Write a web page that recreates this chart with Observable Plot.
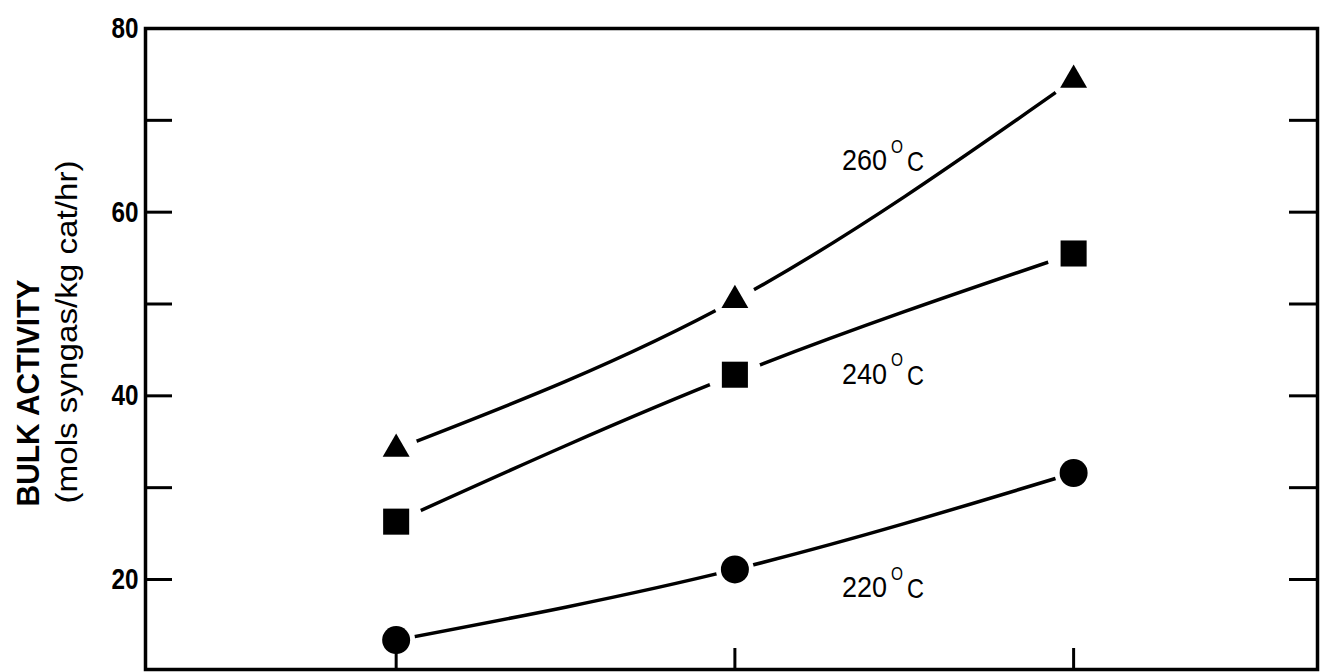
<!DOCTYPE html>
<html><head><meta charset="utf-8">
<script src="https://cdn.jsdelivr.net/npm/d3@7"></script>
<script src="https://cdn.jsdelivr.net/npm/@observablehq/plot@0.6"></script>
<style>
html,body{margin:0;padding:0;background:#fff;}
svg{display:block;}
</style></head><body><div id="chart"></div>
<script>
const runs = [1, 2, 3];
const temps = ["220", "240", "260"];
const series220 = [13.4, 21.1, 31.6];
const series240 = [26.3, 42.3, 55.5];
const series260 = [34.2, 50.4, 74.4];
const yTicks = [20, 30, 40, 50, 60, 70];
const yTickLabels = [20, 40, 60, 80];
const xTicks = [1, 2, 3];
const labelX = [2.316, 2.316, 2.316];
const labelY = [19.1, 42.3, 65.6];
const axisLines = ["BULK ACTIVITY", "(mols syngas/kg cat/hr)"];

const seriesByTemp = {"220": series220, "240": series240, "260": series260};
const rows = [];
for (const t of temps) runs.forEach((r, i) => rows.push({run: r, temp: t, value: seriesByTemp[t][i]}));
const labels = temps.map((t, i) => ({x: labelX[i], y: labelY[i], num: t}));

const font = "'Liberation Sans', 'DejaVu Sans', sans-serif";
const ofTemp = t => rows.filter(d => d.temp === t);

const chart = Plot.plot({
  width: 1321, height: 672,
  marginLeft: 145, marginRight: 4, marginTop: 28, marginBottom: 3,
  style: {fontFamily: font, background: "white", color: "black"},
  x: {domain: [0.26, 3.72]},
  y: {domain: [10.2, 80]},
  marks: [
    Plot.line(rows, {x: "run", y: "value", z: "temp", curve: "natural", stroke: "black", strokeWidth: 3.5}),
    Plot.dot(ofTemp("260"), {x: "run", y: "value", r: 22, fill: "white"}),
    Plot.dot(ofTemp("240"), {x: "run", y: "value", r: 27, fill: "white"}),
    Plot.dot(ofTemp("220"), {x: "run", y: "value", r: 19, fill: "white"}),
    Plot.frame({stroke: "black", strokeWidth: 3.5}),
    Plot.axisY({anchor: "left", ticks: yTicks, tickSize: -27, tickFormat: () => "", strokeWidth: 3, label: null}),
    Plot.axisY({anchor: "right", ticks: yTicks, tickSize: -29, tickFormat: () => "", strokeWidth: 3, label: null}),
    Plot.axisX({anchor: "bottom", ticks: xTicks, tickSize: -21, tickFormat: () => "", strokeWidth: 3, label: null}),
    Plot.axisY({anchor: "left", ticks: yTickLabels, tickSize: 0, tickPadding: 7, fontSize: 30, fontWeight: "bold", label: null}),
    Plot.dot(ofTemp("260"), {x: "run", y: "value", symbol: "triangle", r: 10, fill: "black"}),
    Plot.dot(ofTemp("240"), {x: "run", y: "value", symbol: "square", r: 14.7, fill: "black"}),
    Plot.dot(ofTemp("220"), {x: "run", y: "value", symbol: "circle", r: 14, fill: "black"}),
    Plot.text(labels, {x: "x", y: "y", text: "num", textAnchor: "start", fontSize: 29}),
    Plot.text(labels, {x: "x", y: "y", text: () => "O", textAnchor: "start", fontSize: 18, dx: 49, dy: -14}),
    Plot.text(labels, {x: "x", y: "y", text: () => "C", textAnchor: "start", fontSize: 28, dx: 65, dy: 1}),
    Plot.text([axisLines[0]], {text: d => d, frameAnchor: "left", textAnchor: "middle", rotate: -90, dx: -117, dy: 44, fontSize: 32, fontWeight: "bold"}),
    Plot.text([axisLines[1]], {text: d => d, frameAnchor: "left", textAnchor: "middle", rotate: -90, dx: -78, dy: -17, fontSize: 30})
  ]
});
document.getElementById("chart").appendChild(chart);

// Condense the typewriter-style lettering to the widths seen in the scan
const widths = {"20": 27, "40": 27, "60": 27, "80": 27, "220": 45, "240": 45, "260": 45, "O": 12, "C": 17};
widths[axisLines[0]] = 227;
widths[axisLines[1]] = 343;
d3.select(chart).selectAll("text").each(function() {
  const s = this.textContent;
  if (widths[s] != null) {
    this.setAttribute("textLength", widths[s]);
    this.setAttribute("lengthAdjust", "spacingAndGlyphs");
  }
});
</script></body></html>
